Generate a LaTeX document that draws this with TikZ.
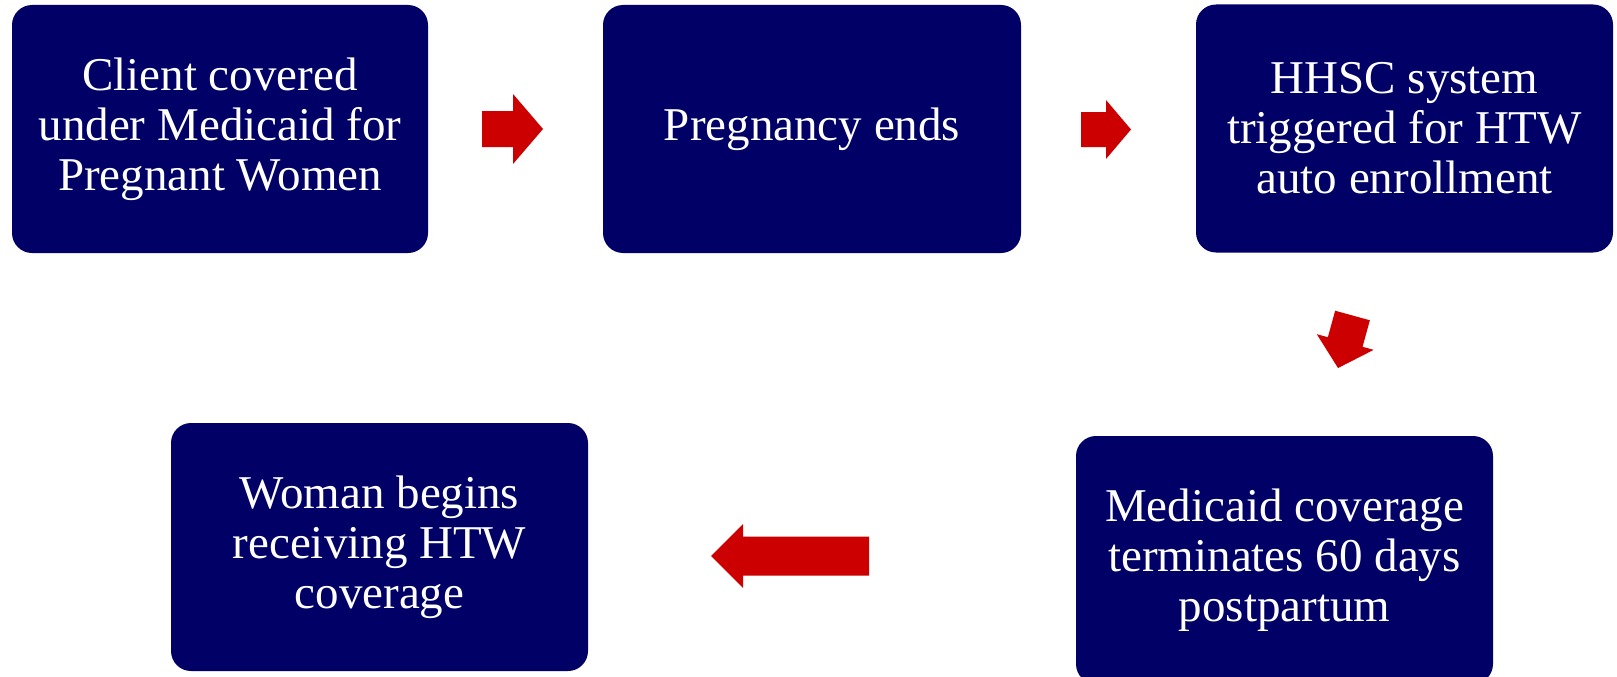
\documentclass[tikz,border=0pt]{standalone}
\usepackage{fontspec}
\setmainfont{Liberation Serif}
\definecolor{boxnavy}{RGB}{0,0,102}
\definecolor{arrred}{RGB}{204,0,0}
\newcommand\myblockarrow[7]{%
  % #1,#2 tail centre; #3 angle; #4 length; #5 shaft half; #6 head half; #7 head length
  \begin{scope}[shift={(#1,#2)},rotate=#3]
    \fill[arrred] (0,-#5) -- ({#4-#7},-#5) -- ({#4-#7},-#6) -- (#4,0)
      -- ({#4-#7},#6) -- ({#4-#7},#5) -- (0,#5) -- cycle;
  \end{scope}}
\begin{document}
\begin{tikzpicture}[x=1pt,y=-1pt,
  stepbox/.style={fill=boxnavy,draw=none,rounded corners=20pt,inner sep=0pt,
    minimum width=417pt,minimum height=248pt,text=white,align=center,
    font=\fontsize{47}{50}\selectfont}]
\useasboundingbox (0,0) rectangle (1617,677);
\fill[white] (0,0) rectangle (1617,677);
\node[stepbox,minimum width=416pt] (b1) at (220,129) {Client covered\\under Medicaid for\\Pregnant Women};
\node[stepbox,minimum width=418pt] (b2) at (812,129) {Pregnancy ends};
\node[stepbox] (b3) at (1404.5,128.5) {HHSC system\\triggered for HTW\\auto enrollment};
\node[stepbox] (b4) at (1284.5,560) {Medicaid coverage\\terminates 60 days\\postpartum};
\node[stepbox] (b5) at (379.5,547) {Woman begins\\receiving HTW\\coverage};
\myblockarrow{482}{129}{0}{61}{18}{35}{30}
\myblockarrow{1081}{129.5}{0}{50}{17.5}{29.5}{25}
\myblockarrow{1352.5}{315.5}{-105.4}{54.5}{18}{29.5}{27}
\myblockarrow{869}{556}{180}{158}{19.5}{32}{32}
\end{tikzpicture}
\end{document}
